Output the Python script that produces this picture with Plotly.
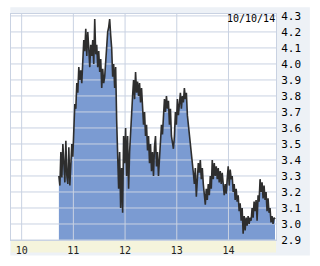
import numpy as np
import plotly.graph_objects as go

# ---- data ----
START_YEAR = 10.72
END_YEAR = 14.90
prices = [
    3.30, 3.24, 3.45, 3.29, 3.50, 3.35, 3.26, 3.52, 3.30, 3.25,
    3.48, 3.24, 3.35, 3.50, 3.42, 3.62, 3.75, 3.72, 3.88, 3.82,
    3.98, 3.90, 3.96, 3.88, 4.05, 4.15, 4.08, 4.22, 4.05, 4.20,
    4.10, 3.98, 4.12, 4.05, 4.15, 4.00, 4.28, 4.06, 4.12, 3.98,
    4.08, 3.95, 4.03, 3.85, 3.97, 3.88, 3.92, 4.02, 4.08, 4.20,
    4.23, 4.28, 4.18, 4.10, 3.92, 4.00, 3.85, 3.98, 3.65, 3.40,
    3.22, 3.45, 3.10, 3.35, 3.07, 3.55, 3.38, 3.60, 3.30, 3.55,
    3.22, 3.45, 3.60, 3.75, 3.80, 3.90, 3.78, 3.95, 3.82, 3.89,
    3.80, 3.88, 3.76, 3.85, 3.72, 3.62, 3.70, 3.55, 3.62, 3.46,
    3.55, 3.38, 3.50, 3.33, 3.45, 3.30, 3.48, 3.55, 3.36, 3.45,
    3.30, 3.40, 3.50, 3.62, 3.56, 3.70, 3.78, 3.70, 3.80, 3.72,
    3.77, 3.62, 3.72, 3.55, 3.50, 3.47, 3.55, 3.70, 3.62, 3.78,
    3.68, 3.75, 3.82, 3.72, 3.80, 3.76, 3.85, 3.78, 3.82, 3.68,
    3.62, 3.58, 3.52, 3.48, 3.40, 3.32, 3.25, 3.35, 3.17, 3.28,
    3.38, 3.32, 3.40, 3.28, 3.35, 3.25, 3.18, 3.12, 3.22, 3.15,
    3.25, 3.18, 3.30, 3.22, 3.40, 3.28, 3.38, 3.30, 3.36, 3.28,
    3.35, 3.26, 3.33, 3.25, 3.32, 3.22, 3.18, 3.25, 3.19, 3.28,
    3.36, 3.24, 3.34, 3.28, 3.30, 3.20, 3.25, 3.15, 3.22, 3.14,
    3.18, 3.08, 3.13, 3.02, 3.10, 2.94, 3.05, 2.96, 3.04, 2.99,
    3.05, 3.00, 3.04, 3.02, 3.10, 3.04, 3.14, 3.08, 3.15, 3.02,
    3.18, 3.14, 3.28, 3.20, 3.26, 3.16, 3.24, 3.15, 3.20, 3.08,
    3.16, 3.07, 3.10, 3.01, 3.05, 3.00, 3.04, 3.03,
]
x_ticks = [10, 11, 12, 13, 14]
x_labels = ["10", "11", "12", "13", "14"]
y_ticks = [2.9, 3.0, 3.1, 3.2, 3.3, 3.4, 3.5, 3.6, 3.7, 3.8, 3.9, 4.0, 4.1, 4.2, 4.3]
y_labels = ["%.1f" % v for v in y_ticks]
date_label = "10/10/14"

X_RANGE = [9.794, 14.919]
Y_RANGE = [2.9, 4.312]

years = np.linspace(START_YEAR, END_YEAR, len(prices))

GRID = "rgb(201,210,226)"
FILL = "rgb(123,155,210)"
FONT = "DejaVu Sans Mono"

fig = go.Figure()
fig.add_trace(go.Scatter(x=years, y=prices, mode="lines", fill="tozeroy",
                         fillcolor=FILL, line=dict(width=0), hoverinfo="skip"))
# grid lines drawn above fill
gx, gy = [], []
for t in x_ticks:
    gx += [t, t, None]
    gy += [Y_RANGE[0], Y_RANGE[1], None]
for t in y_ticks:
    gx += [X_RANGE[0], X_RANGE[1], None]
    gy += [t, t, None]
fig.add_trace(go.Scatter(x=gx, y=gy, mode="lines", line=dict(color=GRID, width=1),
                         hoverinfo="skip"))
fig.add_trace(go.Scatter(x=years, y=prices, mode="lines",
                         line=dict(color="#2e2e2e", width=1.6), hoverinfo="skip"))

H = 235.0
W = 266.0
# outer panel
fig.add_shape(type="rect", xref="paper", yref="paper", layer="below",
              x0=-0.7 / W, x1=300 / W, y0=-16 / H, y1=242 / H,
              fillcolor="rgb(237,241,246)", line=dict(width=0))
# plot white area
fig.add_shape(type="rect", xref="paper", yref="paper", layer="below",
              x0=0, x1=1, y0=0, y1=1, fillcolor="white", line=dict(width=0))
# x label band
fig.add_shape(type="rect", xref="paper", yref="paper", layer="below",
              x0=0, x1=1, y0=-13 / H, y1=0,
              fillcolor="rgb(245,244,220)", line=dict(width=0))

fig.add_annotation(text=date_label, xref="paper", yref="paper", x=1, y=(245 - 15) / H,
                   xanchor="right", yanchor="middle", showarrow=False,
                   font=dict(family=FONT, size=10, color="black"), borderpad=0)

fig.update_layout(
    width=320, height=266, margin=dict(l=10, r=44, t=10, b=21),
    paper_bgcolor="white", plot_bgcolor="rgba(0,0,0,0)", showlegend=False,
    xaxis=dict(range=X_RANGE, tickvals=x_ticks, ticktext=x_labels, showgrid=False,
               zeroline=False, showline=True, linecolor=GRID, mirror=True,
               ticks="outside", ticklen=1, tickcolor="rgba(0,0,0,0)",
               tickfont=dict(family=FONT, size=10, color="#222")),
    yaxis=dict(range=Y_RANGE, tickvals=y_ticks, ticktext=y_labels, side="right",
               showgrid=False, zeroline=False, showline=True, linecolor=GRID,
               mirror=True, ticks="outside", ticklen=2, tickcolor="rgba(0,0,0,0)",
               tickfont=dict(family=FONT, size=11, color="black")),
)

fig.write_html("out.html")
